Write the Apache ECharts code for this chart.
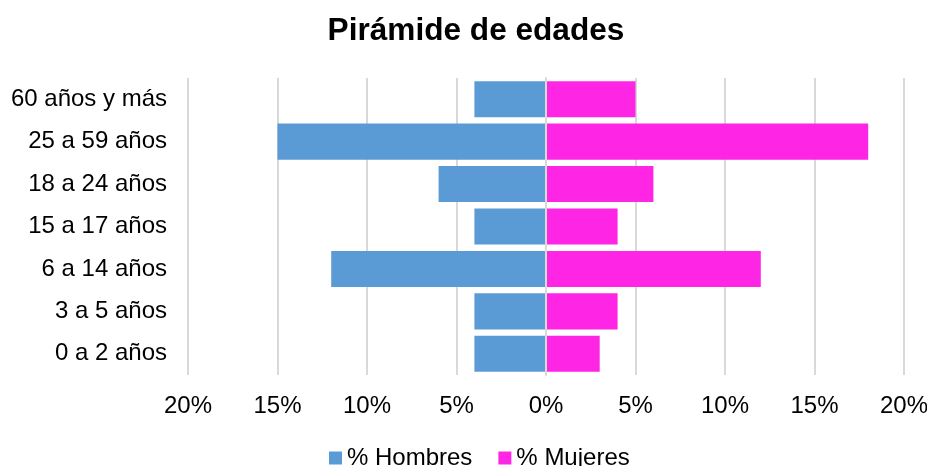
<!DOCTYPE html>
<html>
<head>
<meta charset="utf-8">
<script src="https://cdn.jsdelivr.net/npm/echarts@6/dist/echarts.min.js"></script>
<style>
  html, body { margin: 0; padding: 0; background: #fff; }
  #chart { width: 927px; height: 466px; }
</style>
</head>
<body>
<div id="chart"></div>
<script>
(function () {
  var myChart = echarts.init(document.getElementById("chart"));

  const categories = [
    "0 a 2 años",
    "3 a 5 años",
    "6 a 14 años",
    "15 a 17 años",
    "18 a 24 años",
    "25 a 59 años",
    "60 años y más",
  ];
  const hombres = [4, 4, 12, 4, 6, 15, 4];
  const mujeres = [3, 4, 12, 4, 6, 18, 5];
  const seriesNames = ["% Hombres", "% Mujeres"];
  const colorList = ["#5B9BD5", "#FF25E4"];

  const font = "Liberation Sans, Arial, sans-serif";

  const option = {
    backgroundColor: "#fff",
    animation: false,
    color: colorList,
    title: {
      text: "Pirámide de edades",
      left: 471,
      textAlign: "center",
      top: 10,
      textStyle: {
        fontFamily: font,
        fontSize: 31.6,
        fontWeight: "bold",
        color: "#000",
      },
    },
    legend: {
      bottom: -9,
      left: 324,
      itemGap: 26,
      itemWidth: 13,
      itemHeight: 13,
      icon: "rect",
      textStyle: {
        fontFamily: font,
        fontSize: 24,
        color: "#000",
        padding: [0, 0, 0, 0],
      },
      data: seriesNames,
    },
    grid: {
      top: 78,
      bottom: 91,
      left: 188,
      right: 23,
      containLabel: false,
      outerBoundsMode: "none",
    },
    xAxis: {
      type: "value",
      min: -20,
      max: 20,
      interval: 5,
      axisLine: { show: false },
      axisTick: { show: false },
      splitLine: {
        show: true,
        lineStyle: { color: "#d9d9d9", width: 2 },
      },
      axisLabel: {
        margin: 19,
        fontFamily: font,
        fontSize: 24,
        color: "#000",
        formatter: (v) => Math.abs(v) + "%",
      },
    },
    yAxis: {
      type: "category",
      data: categories,
      z: 5,
      axisTick: { show: false },
      axisLine: {
        show: true,
        onZero: true,
        lineStyle: { color: "#d9d9d9", width: 2 },
      },
      axisLabel: {
        margin: 21,
        fontFamily: font,
        fontSize: 24,
        color: "#000",
      },
    },
    series: [
      {
        name: seriesNames[0],
        type: "bar",
        stack: "total",
        barCategoryGap: "15%",
        data: hombres.map((v) => -v),
      },
      {
        name: seriesNames[1],
        type: "bar",
        stack: "total",
        barCategoryGap: "15%",
        data: mujeres,
      },
    ],
  };

  myChart.setOption(option, true);

  window.onresize = function () {
    myChart.resize();
  };
})();
</script>
</body>
</html>
